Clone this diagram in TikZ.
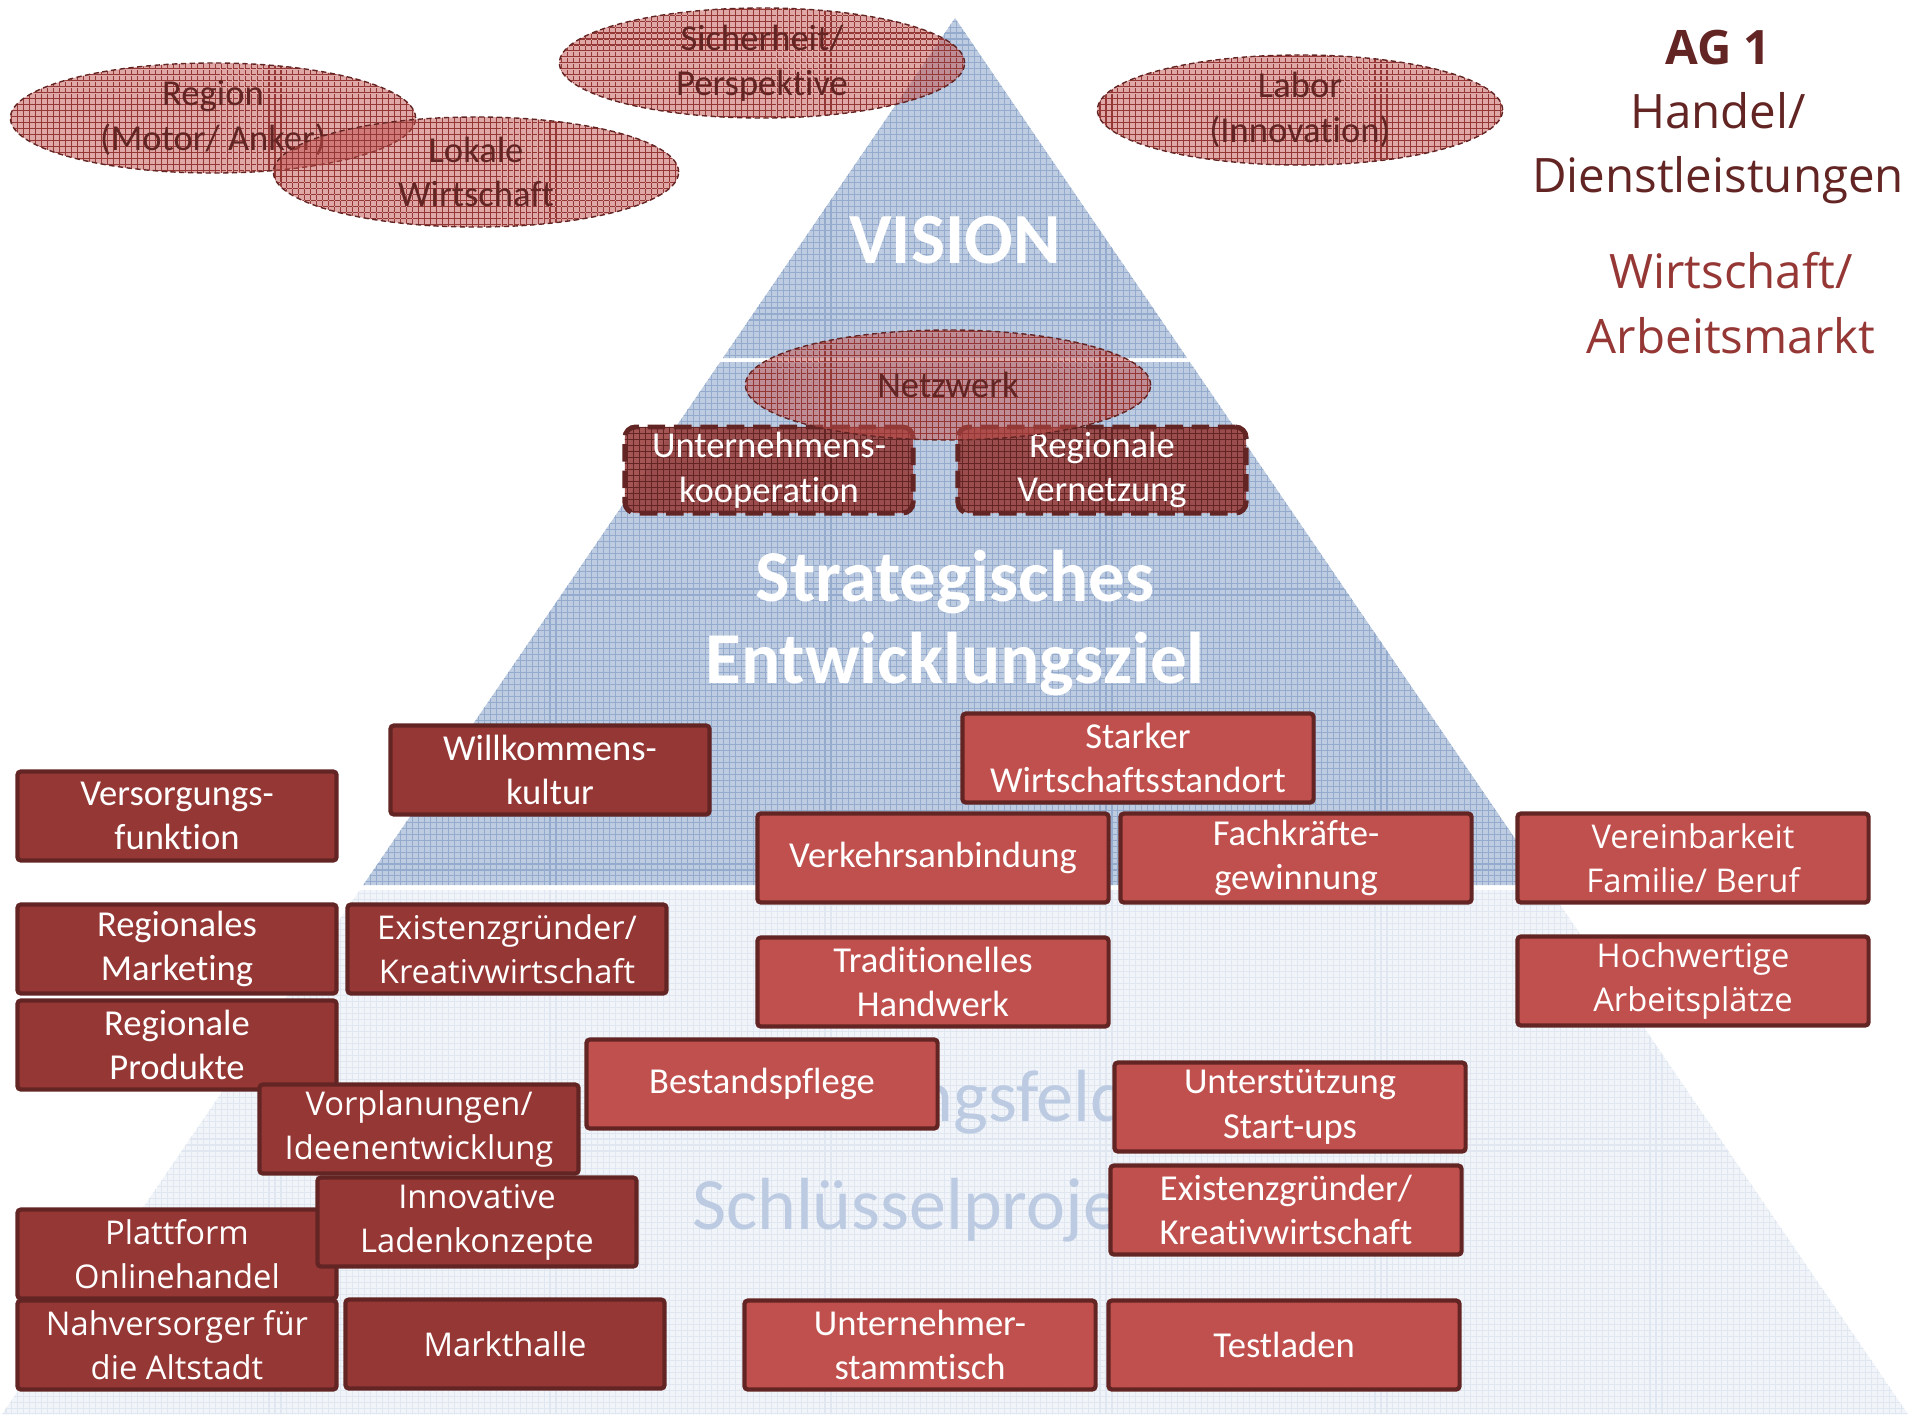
\documentclass[tikz,border=0pt]{standalone}
\usepackage{fontspec}
\setmainfont[Ligatures=NoCommon]{Carlito}
\newfontfamily\segoe{Open Sans}
\usetikzlibrary{patterns,shapes.geometric}

\pgfdeclarepatternformonly{feingitter}{\pgfqpoint{-0.5pt}{-0.5pt}}{\pgfqpoint{2.2pt}{2.2pt}}{\pgfqpoint{1.7pt}{1.7pt}}{%
	\pgfsetlinewidth{0.3pt}
	\pgfpathmoveto{\pgfqpoint{0pt}{0pt}}\pgfpathlineto{\pgfqpoint{0pt}{1.8pt}}
	\pgfpathmoveto{\pgfqpoint{0pt}{0pt}}\pgfpathlineto{\pgfqpoint{1.8pt}{0pt}}
	\pgfusepath{stroke}}

\definecolor{rotdunkel}{RGB}{99,37,35}
\definecolor{rotmittel}{RGB}{149,55,53}
\definecolor{rothell}{RGB}{192,80,77}
\definecolor{blaupyr}{RGB}{190,204,225}
\definecolor{blaulinie}{RGB}{148,171,205}
\definecolor{blaublass}{RGB}{241,244,249}
\definecolor{blaublasslinie}{RGB}{224,231,241}
\definecolor{blautext}{RGB}{188,203,226}

\begin{document}
\begin{tikzpicture}[x=0.01cm, y=-0.01cm,
	feld/.style={draw=rotdunkel, line width=1.2pt, rounded corners=1pt,
		text=white, align=center, inner sep=0pt, minimum height=0.89cm,
		font=\fontsize{10.4}{12.7}\selectfont},
	dunkel/.style={feld, fill=rotmittel, minimum width=3.19cm},
	hell/.style={feld, fill=rothell, minimum width=3.51cm},
	breit/.style={font=\segoe\fontsize{9.3}{12.5}\selectfont},
	ziel/.style={ellipse, draw=rotdunkel, dash pattern=on 1.5pt off 1pt,
		line width=0.4pt, inner sep=0pt, minimum width=4.05cm, minimum height=1.1cm,
		preaction={fill=rothell, fill opacity=0.5},
		pattern=feingitter, pattern color=rotmittel, fill opacity=0.55, text opacity=1,
		text=rotdunkel, align=center, font=\fontsize{10.4}{12.7}\selectfont},
	netzbox/.style={draw=rotdunkel, line width=1.4pt, dash pattern=on 5pt off 2.5pt,
		rounded corners=3pt, minimum width=2.88cm, minimum height=0.86cm,
		preaction={fill=rotmittel, fill opacity=0.85},
		pattern=feingitter, pattern color=rotdunkel, text=white, align=center,
		inner sep=0pt, font=\fontsize{10.4}{12.7}\selectfont},
	titel/.style={text=white, align=center, font=\bfseries\fontsize{20.8}{23.3}\selectfont},
	blass/.style={text=blautext, font=\fontsize{21}{25}\selectfont}]
	\useasboundingbox (0,0) rectangle (1910,1414);
	% Pyramide
	\fill[blaupyr] (955,18) -- (1187.1,358) -- (722.9,358) -- cycle;
	\fill[pattern=feingitter, pattern color=blaulinie] (955,18) -- (1187.1,358) -- (722.9,358) -- cycle;
	\fill[blaupyr] (720.2,362) -- (1189.8,362) -- (1546.8,885) -- (363.2,885) -- cycle;
	\fill[pattern=feingitter, pattern color=blaulinie] (720.2,362) -- (1189.8,362) -- (1546.8,885) -- (363.2,885) -- cycle;
	\fill[blaublass] (359.8,890) -- (1550.2,890) -- (1907.9,1414) -- (2.1,1414) -- cycle;
	\fill[pattern=feingitter, pattern color=blaublasslinie] (359.8,890) -- (1550.2,890) -- (1907.9,1414) -- (2.1,1414) -- cycle;
	\node [titel, font=\bfseries\fontsize{20.5}{24}\selectfont] (vision) at (955,240) {VISION};
	\node [titel] (ziel) at (955,623) {Strategisches\\Entwicklungsziel};
	\node [blass] (hf) at (946,1102) {Handlungsfelder};
	\node [blass] (sp) at (953,1210) {Schlüsselprojekte};
	% Titel rechts
	\node [text=rotdunkel, align=center, font=\segoe\fontsize{13.5}{18.3}\selectfont] (ag) at (1718,117) {\textbf{AG 1}\\Handel/\\Dienstleistungen};
	\node [text=rotmittel, align=center, font=\segoe\fontsize{13.5}{18.3}\selectfont] (wa) at (1731,303) {Wirtschaft/\\Arbeitsmarkt};
	% Netzwerk
	\node [netzbox] (uk) at (769,470) {Unternehmens-\\kooperation};
	\node [netzbox] (rv) at (1102,470) {Regionale\\Vernetzung};
	\node [ziel] (netz) at (948,385) {Netzwerk};
	% Ziele oben
	\node [ziel] (region) at (213,118) {Region\\(Motor/ Anker)};
	\node [ziel] (lokal) at (476,172) {Lokale\\Wirtschaft};
	\node [ziel] (sicher) at (762,63) {Sicherheit/\\Perspektive};
	\node [ziel] (labor) at (1300,110) {Labor\\(Innovation)};
	% Felder
	\node [dunkel] (willk) at (550,770) {Willkommens-\\kultur};
	\node [dunkel] (vers) at (177,816) {Versorgungs-\\funktion};
	\node [hell] (stark) at (1138,758) {Starker\\Wirtschaftsstandort};
	\node [hell] (verk) at (933,858) {Verkehrsanbindung};
	\node [hell] (fach) at (1296,858) {Fachkräfte-\\gewinnung};
	\node [hell, breit] (verein) at (1693,858) {Vereinbarkeit\\Familie/ Beruf};
	\node [dunkel] (rmark) at (177,949) {Regionales\\Marketing};
	\node [dunkel, breit] (exl) at (507,949) {Existenzgründer/\\Kreativwirtschaft};
	\node [hell] (trad) at (933,982) {Traditionelles\\Handwerk};
	\node [hell, breit] (hoch) at (1693,981) {Hochwertige\\Arbeitsplätze};
	\node [dunkel] (rprod) at (177,1045) {Regionale\\Produkte};
	\node [hell] (best) at (762,1084) {Bestandspflege};
	\node [dunkel, breit] (vorpl) at (419,1129) {Vorplanungen/\\Ideenentwicklung};
	\node [hell] (start) at (1290,1107) {Unterstützung\\Start-ups};
	\node [dunkel, breit] (platt) at (177,1254) {Plattform\\Onlinehandel};
	\node [dunkel, breit] (innov) at (477,1222) {Innovative\\Ladenkonzepte};
	\node [hell] (exr) at (1286,1210) {Existenzgründer/\\Kreativwirtschaft};
	\node [dunkel, breit] (nahv) at (177,1345) {Nahversorger für\\die Altstadt};
	\node [dunkel, breit] (markt) at (505,1344) {Markthalle};
	\node [hell] (stamm) at (920,1345) {Unternehmer-\\stammtisch};
	\node [hell] (test) at (1284,1345) {Testladen};
\end{tikzpicture}
\end{document}
